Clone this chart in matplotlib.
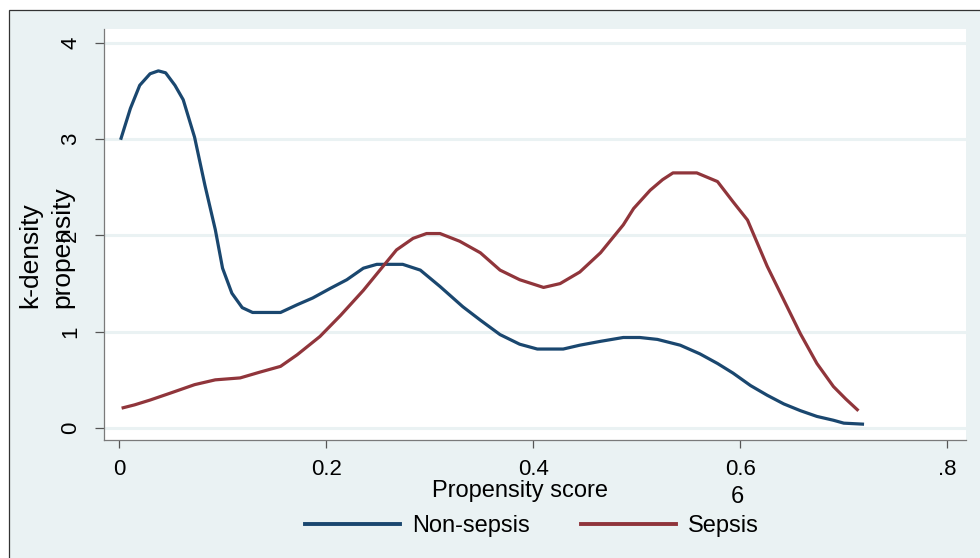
import matplotlib
matplotlib.use("Agg")
import matplotlib.pyplot as plt
from matplotlib.patches import Rectangle
from matplotlib.lines import Line2D

plt.rcParams['font.family'] = ['Liberation Sans', 'DejaVu Sans']

# densidad kernel del puntaje de propension
x_non = [0.002, 0.011, 0.020, 0.030, 0.038, 0.045, 0.054, 0.062, 0.073, 0.083,
         0.093, 0.100, 0.109, 0.119, 0.129, 0.141, 0.156, 0.172, 0.187, 0.204,
         0.220, 0.236, 0.249, 0.274, 0.291, 0.310, 0.332, 0.349, 0.368, 0.387,
         0.404, 0.429, 0.445, 0.465, 0.487, 0.503, 0.520, 0.542, 0.561, 0.578,
         0.593, 0.610, 0.626, 0.642, 0.658, 0.674, 0.690, 0.700, 0.718]
y_non = [3.01, 3.32, 3.56, 3.68, 3.71, 3.69, 3.56, 3.41, 3.02, 2.52,
         2.06, 1.66, 1.40, 1.25, 1.20, 1.20, 1.20, 1.28, 1.35, 1.45,
         1.54, 1.66, 1.70, 1.70, 1.64, 1.47, 1.26, 1.12, 0.97, 0.87,
         0.82, 0.82, 0.86, 0.90, 0.94, 0.94, 0.92, 0.86, 0.77, 0.67,
         0.57, 0.44, 0.34, 0.25, 0.18, 0.12, 0.08, 0.05, 0.04]

x_sep = [0.004, 0.015, 0.030, 0.049, 0.073, 0.093, 0.117, 0.136, 0.156, 0.172,
         0.194, 0.214, 0.236, 0.252, 0.268, 0.284, 0.297, 0.310, 0.329, 0.349,
         0.368, 0.387, 0.410, 0.426, 0.445, 0.465, 0.487, 0.497, 0.513, 0.525,
         0.535, 0.558, 0.578, 0.593, 0.607, 0.626, 0.642, 0.658, 0.674, 0.690,
         0.702, 0.713]
y_sep = [0.21, 0.24, 0.29, 0.36, 0.45, 0.50, 0.52, 0.58, 0.64, 0.76,
         0.95, 1.17, 1.43, 1.64, 1.85, 1.97, 2.02, 2.02, 1.94, 1.82,
         1.64, 1.54, 1.46, 1.50, 1.62, 1.82, 2.11, 2.28, 2.47, 2.58,
         2.65, 2.65, 2.56, 2.35, 2.16, 1.68, 1.33, 0.98, 0.67, 0.43,
         0.30, 0.19]

xticks = [0, 0.2, 0.4, 0.6, 0.8]
xtick_labels = ["0", "0.2", "0.4", "0.6", ".8"]
yticks = [0, 1, 2, 3, 4]
series_names = ["Non-sepsis", "Sepsis"]

bg = "#eaf2f3"
azul = "#1a476f"
rojo = "#90353b"

fig = plt.figure(figsize=(9.8, 5.58), dpi=100, facecolor="white")
fig.patches.append(Rectangle((9 / 980, -0.1), 1.1, 1.1 - 10 / 558,
                             transform=fig.transFigure, facecolor=bg,
                             edgecolor="#333333", linewidth=0.9, zorder=-5))

ax = fig.add_axes([104 / 980, 1 - 440 / 558, (966 - 104) / 980, (440 - 29) / 558])
ax.set_zorder(2)
ax.set_facecolor("white")
ax.plot(x_non, y_non, color=azul, linewidth=2.3, zorder=3)
ax.plot(x_sep, y_sep, color=rojo, linewidth=2.3, zorder=3)

ax.set_xlim(-0.0145, 0.818)
ax.set_ylim(-0.125, 4.145)
ax.set_xticks(xticks)
ax.set_xticklabels(xtick_labels, fontsize=16)
ax.set_yticks(yticks)
ax.set_yticklabels([str(v) for v in yticks], fontsize=16, rotation=90, va="center")
ax.tick_params(axis="x", length=6, width=0.9, color="#555555", pad=8)
ax.tick_params(axis="y", length=6.5, width=0.9, color="#555555", pad=10)
ax.grid(axis="y", color=bg, linewidth=2.2, zorder=1)
ax.set_axisbelow(True)
for lado in ["top", "right"]:
    ax.spines[lado].set_visible(False)
for lado in ["left", "bottom"]:
    ax.spines[lado].set_color("#7a7a7a")
    ax.spines[lado].set_linewidth(0.9)

# etiquetas (el eje y tiene dos lineas superpuestas como en el original)
fig.text(30 / 980, 1 - 308 / 558, "k-density", rotation=90, ha="center", va="bottom", fontsize=19)
fig.text(62 / 980, 1 - 308 / 558, "propensity", rotation=90, ha="center", va="bottom", fontsize=19)
fig.text(520 / 980, 1 - 491 / 558, "Propensity score", ha="center", va="center", fontsize=17)
fig.text(737 / 980, 1 - 497 / 558, "6", ha="center", va="center", fontsize=17)

handles = [Line2D([], [], color=azul, linewidth=2.8),
           Line2D([], [], color=rojo, linewidth=2.8)]
fig.legend(handles, series_names, loc="center", bbox_to_anchor=(532 / 980, 1 - 526 / 558),
           ncol=2, frameon=False, fontsize=17, handlelength=4.0,
           handletextpad=0.5, columnspacing=2.2)

fig.savefig("out.png", dpi=100, facecolor="white")
